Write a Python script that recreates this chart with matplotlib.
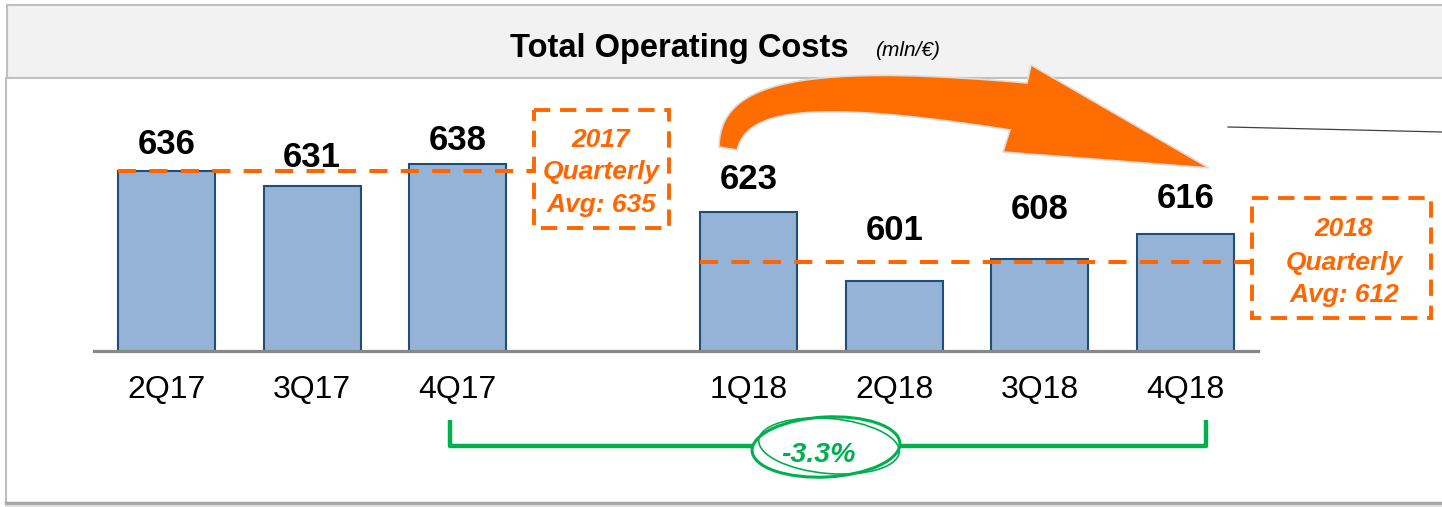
import numpy as np
import matplotlib.pyplot as plt
from matplotlib.patches import Rectangle, Polygon, Ellipse

quarters = ['2Q17', '3Q17', '4Q17', '1Q18', '2Q18', '3Q18', '4Q18']
slots = [0, 1, 2, 4, 5, 6, 7]
costs = [636, 631, 638, 623, 601, 608, 616]
avg_text = ['2017\nQuarterly\nAvg: 635', '2018\nQuarterly\nAvg: 612']
# levels where the dashed average lines sit in the picture
avg_levels = [636, 607]
change_text = '-3.3%'

W, H = 1442, 507
FONT = 'Liberation Sans'
ORANGE = '#ff6600'
GREEN = '#00b050'

fig = plt.figure(figsize=(W / 100, H / 100), dpi=100)

# background layer in pixel coordinates (y down)
deco = fig.add_axes([0, 0, 1, 1], zorder=0)
deco.set_xlim(0, W)
deco.set_ylim(H, 0)
deco.axis('off')

deco.add_patch(Rectangle((7, 5), W, 73, fc='#f2f2f2', ec='#c0c0c0', lw=1.5))
deco.plot([6, 6], [78, 503], color='#c0c0c0', lw=1.5)
deco.plot([6, W], [503, 503], color='#a6a6a6', lw=2.5)
deco.plot([6, W], [505.5, 505.5], color='#dddddd', lw=1.5)

deco.text(679, 57, 'Total Operating Costs', fontsize=23.5, fontweight='bold',
          family=FONT, ha='center', va='baseline')
deco.text(875, 56, '(mln/\u20ac)', fontsize=15, fontstyle='italic',
          family=FONT, ha='left', va='baseline')

# bar chart
ax = fig.add_axes([94 / W, 156 / H, 1164 / W, 271 / H], zorder=1)
ax.set_facecolor('none')
ax.set_xlim(-0.5, 7.5)
ax.set_ylim(579, 579 + 271 / 3.165)
for s in ['top', 'left', 'right']:
    ax.spines[s].set_visible(False)
ax.spines['bottom'].set_color('#888888')
ax.spines['bottom'].set_linewidth(2.3)
ax.set_yticks([])
ax.set_xticks(slots, quarters)
ax.tick_params(axis='x', length=0, pad=17.5, labelsize=23)
for lab in ax.get_xticklabels():
    lab.set_family(FONT)

bw = 0.667
ax.bar(slots, costs, width=bw, color='#95b3d7', edgecolor='#1f4e79', linewidth=1.5)

label_lift = [17, 19, 14, 23, 41, 40, 26]
for x, v, d in zip(slots, costs, label_lift):
    ax.annotate(str(v), (x, v), xytext=(0, d), textcoords='offset pixels',
                ha='center', va='baseline', fontsize=25, fontweight='bold', family=FONT)

ax.hlines(avg_levels[0], slots[0] - bw / 2, 2.52, colors=ORANGE, lw=2.9,
          linestyles=(0, (4.5, 3.3)), clip_on=False)
ax.hlines(avg_levels[1], slots[3] - bw / 2, 7.45, colors=ORANGE, lw=2.9,
          linestyles=(0, (4.5, 3.3)), clip_on=False)

# average boxes
boxes = [(534, 110, 135, 118, 601, [147, 179, 212]),
         (1252, 198, 179, 120, 1344, [236, 270, 302])]
for (bx, by, bwid, bh, cx, bases), txt in zip(boxes, avg_text):
    deco.add_patch(Rectangle((bx, by), bwid, bh, fc='white', ec=ORANGE, lw=2.8,
                             ls=(0, (4.2, 2.5))))
    for line, yb in zip(txt.split('\n'), bases):
        deco.text(cx, yb, line, color=ORANGE, fontsize=19, fontweight='bold',
                  fontstyle='italic', family=FONT, ha='center', va='baseline')

# curved orange arrow
def bezier(p0, p1, p2, p3, n=40):
    t = np.linspace(0, 1, n)[:, None]
    p0, p1, p2, p3 = map(np.array, (p0, p1, p2, p3))
    return ((1 - t) ** 3) * p0 + 3 * ((1 - t) ** 2) * t * p1 + 3 * (1 - t) * t ** 2 * p2 + t ** 3 * p3

outer = bezier((719, 147), (720, 85), (790, 62), (1027, 83))
inner = bezier((737, 150), (747, 112), (800, 97), (1010, 130))
head = np.array([(1031, 65), (1209, 168), (1003, 152)])
pts = np.vstack([outer, head, inner[::-1]])
deco.add_patch(Polygon(pts, closed=True, fc='#ff6d00', ec='#dcdcdc', lw=1.2))

deco.plot([1228, W], [127, 132], color='#404040', lw=0.9)

# green bracket with circled change
deco.plot([450, 450, 1206, 1206], [420, 446, 446, 420], color=GREEN, lw=3.2,
          solid_joinstyle='round', solid_capstyle='butt', zorder=2)
deco.add_patch(Ellipse((826, 447), 148, 60, angle=-3, fc='white', ec=GREEN, lw=2.2, zorder=3))
deco.add_patch(Ellipse((829, 446), 141, 55, angle=5, fc='none', ec=GREEN, lw=1.2, zorder=3))
deco.text(818, 462, change_text, color=GREEN, fontsize=20.5, fontweight='bold',
          fontstyle='italic', family=FONT, ha='center', va='baseline', zorder=4)

fig.savefig('out.png', dpi=100)
